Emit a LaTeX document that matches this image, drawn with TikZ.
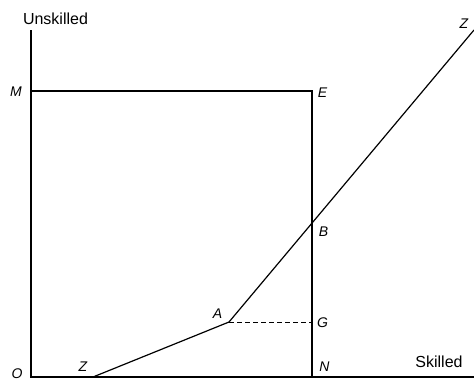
\documentclass[tikz,border=0pt]{standalone}
\usepackage{fontspec}
\setmainfont{Liberation Sans}
\usetikzlibrary{positioning,calc}
\tikzset{
  axis/.style={line width=1.2pt},
  frame/.style={line width=1.2pt},
  curve/.style={line width=1.2pt},
  guide/.style={line width=1pt, dash pattern=on 5pt off 3pt},
  lbl/.style={font=\fontsize{16}{18}\selectfont, inner sep=0pt, anchor=base},
  pt/.style={font=\fontsize{14}{16}\selectfont\itshape, inner sep=0pt, anchor=base},
}
\begin{document}
\begin{tikzpicture}[x=1pt,y=-1pt]
  \useasboundingbox (0,0) rectangle (474,381);
  % axes
  \coordinate (O) at (31,377);
  \coordinate (Ytop) at (31,30);
  \coordinate (Xend) at (474,377);
  \draw[axis] (Ytop) -- (O) -- (Xend);
  \node[lbl] (unsk) at (55.5,24) {Unskilled};
  \node[lbl] (sk) at (439,367) {Skilled};
  % box M E N
  \coordinate (M) at (31,91);
  \coordinate (E) at (312,91);
  \coordinate (N) at (312,377);
  \coordinate (G) at (312,322);
  \draw[frame] (M) -- (E) -- (N);
  % kinked line Z A Z
  \coordinate (Zlo) at (93,377);
  \coordinate (A) at (229,322);
  \coordinate (Zhi) at (474,30);
  \coordinate (B) at (intersection of A--Zhi and E--N);
  \draw[curve] (Zlo) -- (A) -- (Zhi);
  \draw[guide] (A) -- (G);
  % point labels
  \node[pt] (lM) at (16,96.5) {M};
  \node[pt] (lO) at (17,378) {O};
  \node[pt] (lE) at (322.5,97) {E};
  \node[pt] (lB) at (323.5,236) {B};
  \node[pt] (lG) at (322.5,327) {G};
  \node[pt] (lN) at (324.5,371) {N};
  \node[pt] (lA) at (217.5,318) {A};
  \node[pt] (lZlo) at (83,371) {Z};
  \node[pt] (lZhi) at (464,28) {Z};
\end{tikzpicture}
\end{document}
